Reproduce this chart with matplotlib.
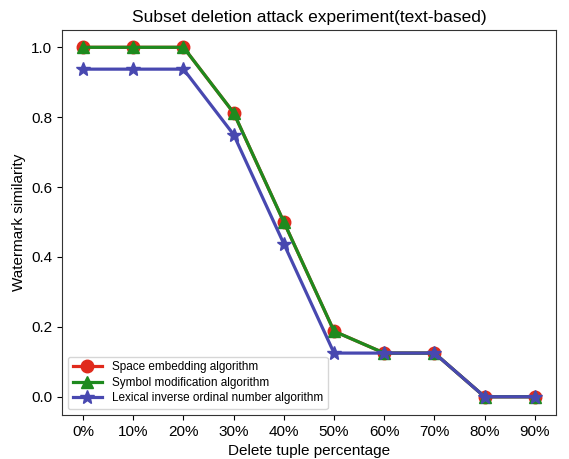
import matplotlib
matplotlib.use("Agg")
import matplotlib.pyplot as plt

plt.rcParams['font.family'] = ['Liberation Sans', 'DejaVu Sans']

labels = ['0%', '10%', '20%', '30%', '40%', '50%', '60%', '70%', '80%', '90%']
space = [1.0, 1.0, 1.0, 0.8125, 0.5, 0.1875, 0.125, 0.125, 0.0, 0.0]
symbol = [1.0, 1.0, 1.0, 0.8125, 0.5, 0.1875, 0.125, 0.125, 0.0, 0.0]
lexical = [0.9375, 0.9375, 0.9375, 0.75, 0.4375, 0.125, 0.125, 0.125, 0.0, 0.0]

x = range(len(labels))

fig, ax = plt.subplots(figsize=(5.69, 4.59), dpi=100)
ax.plot(x, space, color='#e02a1c', marker='o', markersize=9, linewidth=2.3, label='Space embedding algorithm')
ax.plot(x, symbol, color='#1e8a1e', marker='^', markersize=9, linewidth=2.3, label='Symbol modification algorithm')
ax.plot(x, lexical, color='#4848b0', marker='*', markersize=10, linewidth=2.3, label='Lexical inverse ordinal number algorithm')

ax.set_xticks(list(x))
ax.set_xticklabels(labels)
ax.set_yticks([0.0, 0.2, 0.4, 0.6, 0.8, 1.0])
ax.set_xlim(-0.42, 9.42)
ax.set_ylim(-0.052, 1.05)
ax.tick_params(labelsize=11)
for s in ax.spines.values():
    s.set_color('#333333')

ax.set_title('Subset deletion attack experiment(text-based)', fontsize=12.5)
ax.set_xlabel('Delete tuple percentage', fontsize=11)
ax.set_ylabel('Watermark similarity', fontsize=11)
ax.legend(loc='lower left', fontsize=8.5, handlelength=2.5, borderpad=0.4, labelspacing=0.3)

plt.subplots_adjust(left=0.109, right=0.977, top=0.935, bottom=0.096)
plt.savefig('out.png')
